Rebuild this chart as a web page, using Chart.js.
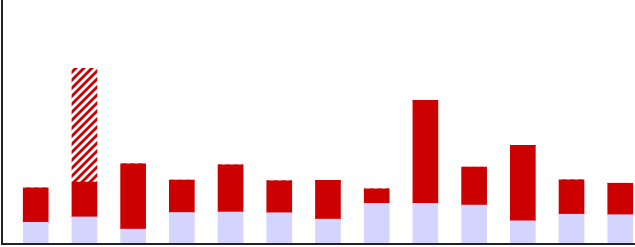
<!DOCTYPE html>
<html>
<head>
<meta charset="utf-8">
<script src="https://cdn.jsdelivr.net/npm/chart.js@4.4.1/dist/chart.umd.min.js"></script>
<style>
  html, body { margin: 0; padding: 0; background: #ffffff; }
  #wrap { width: 635px; height: 247px; }
</style>
</head>
<body>
<div id="wrap"><canvas id="c" width="635" height="247"></canvas></div>
<script>
// ---- data ----
const categories = [1, 2, 3, 4, 5, 6, 7, 8, 9, 10, 11, 12, 13];
const baseValues = [8.9, 11.1, 6.1, 12.9, 13.1, 12.8, 10.2, 16.7, 16.7, 15.9, 9.5, 12.2, 12.0];
const mainValues = [14.1, 14.3, 26.8, 13.3, 19.3, 13.1, 15.9, 5.9, 42.2, 15.6, 30.9, 14.1, 12.9];
const extraValues = [0, 46.6, 0, 0, 0, 0, 0, 0, 0, 0, 0, 0, 0];

// ---- hatch pattern ----
function makeHatch(color) {
  const s = 8;
  const p = document.createElement('canvas');
  p.width = s; p.height = s;
  const g = p.getContext('2d');
  g.fillStyle = '#ffffff';
  g.fillRect(0, 0, s, s);
  g.strokeStyle = color;
  g.lineWidth = 2.8;
  g.beginPath();
  [0, 8, 16].forEach(k => {
    g.moveTo(-2, k + 2);
    g.lineTo(k + 2, -2);
  });
  g.stroke();
  return g.createPattern(p, 'repeat');
}

const toPoints = vals => categories.map((c, i) => ({ x: c, y: vals[i] }));

new Chart(document.getElementById('c'), {
  type: 'bar',
  data: {
    datasets: [
      { data: toPoints(baseValues), backgroundColor: '#d4d4ff', borderWidth: 0 },
      { data: toPoints(mainValues), backgroundColor: '#cc0000', borderWidth: 0 },
      { data: toPoints(extraValues), backgroundColor: makeHatch('#cc0000'), borderWidth: 0 }
    ]
  },
  options: {
    responsive: false,
    devicePixelRatio: 1,
    animation: false,
    barThickness: 25,
    layout: { padding: { left: 2, right: 0, top: 0, bottom: 3 } },
    plugins: { legend: { display: false }, tooltip: { enabled: false } },
    scales: {
      x: {
        type: 'linear',
        stacked: true,
        offset: false,
        min: 0.308,
        max: 13.303,
        grid: { display: false, drawTicks: false, tickLength: 0 },
        ticks: { display: false },
        border: { display: true, color: '#222222', width: 2, z: 1 }
      },
      y: {
        stacked: true,
        min: 0,
        max: 100,
        grid: { display: false, drawTicks: false, tickLength: 0 },
        ticks: { display: false },
        border: { display: true, color: '#222222', width: 2, z: 1 }
      }
    }
  }
});
</script>
</body>
</html>
